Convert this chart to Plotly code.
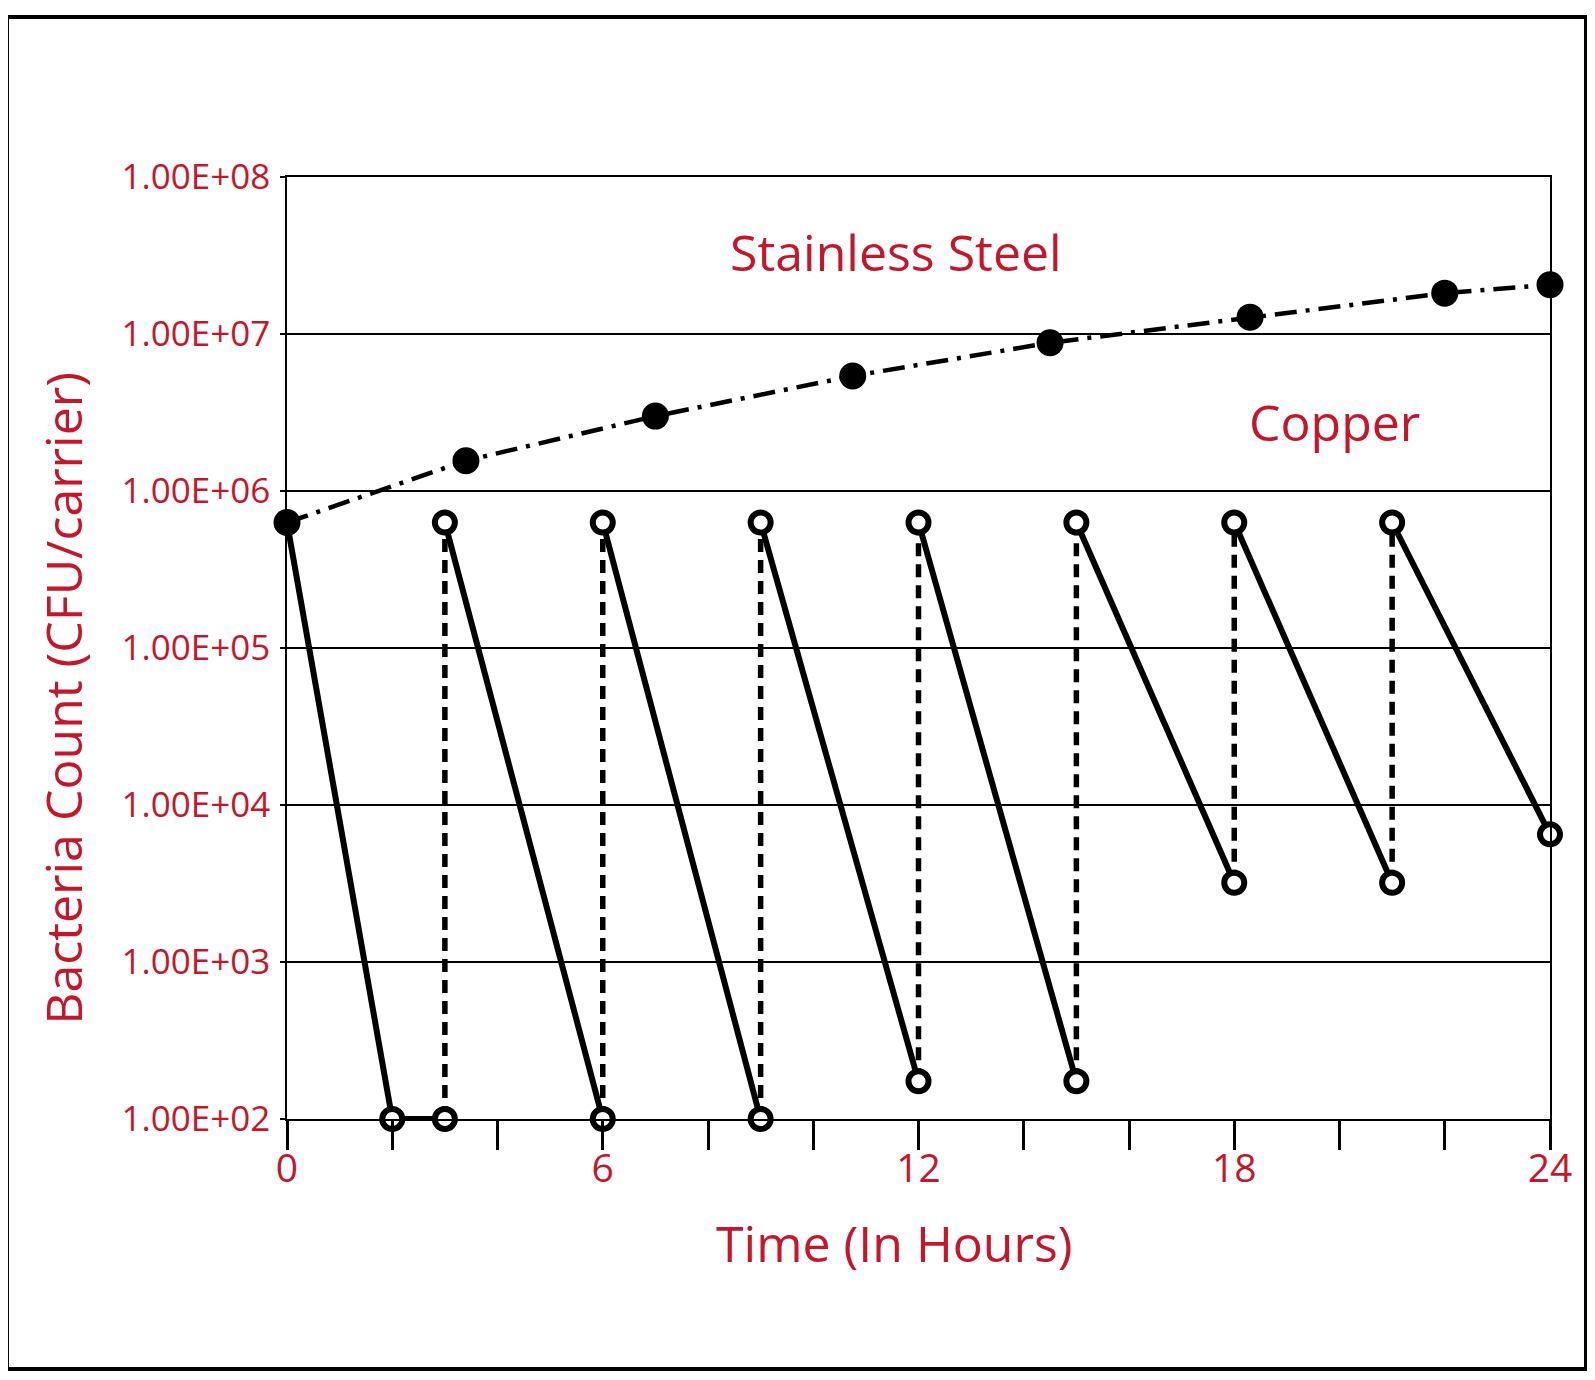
import plotly.graph_objects as go

# ---------------- data ----------------
steel_hours = [0, 3.4, 7, 10.75, 14.5, 18.3, 22, 24]
steel_counts = [6.3e5, 1.56e6, 3.0e6, 5.4e6, 8.8e6, 1.28e7, 1.82e7, 2.06e7]

copper_start_hour = 0
copper_start_count = 6.3e5
copper_plateau_hours = [2, 3]
copper_plateau_counts = [1e2, 1e2]
copper_top_hours = [3, 6, 9, 12, 15, 18, 21]
copper_top_counts = [6.3e5, 6.3e5, 6.3e5, 6.3e5, 6.3e5, 6.3e5, 6.3e5]
copper_bottom_hours = [6, 9, 12, 15, 18, 21, 24]
copper_bottom_counts = [1e2, 1e2, 1.74e2, 1.74e2, 3.2e3, 3.2e3, 6.5e3]

y_tick_vals = [1e2, 1e3, 1e4, 1e5, 1e6, 1e7, 1e8]
y_tick_text = ["1.00E+02", "1.00E+03", "1.00E+04", "1.00E+05",
               "1.00E+06", "1.00E+07", "1.00E+08"]
x_tick_vals = list(range(0, 25, 2))
x_tick_text = ["0", "", "", "6", "", "", "12", "", "", "18", "", "", "24"]

RED = "#C4172C"
FONT = "Open Sans"

# ---------------- build segments ----------------
solid_x = [copper_start_hour] + copper_plateau_hours + [None]
solid_y = [copper_start_count] + copper_plateau_counts + [None]
for th, tc, bh, bc in zip(copper_top_hours, copper_top_counts,
                          copper_bottom_hours, copper_bottom_counts):
    solid_x += [th, bh, None]
    solid_y += [tc, bc, None]

prev_bottom_h = [copper_plateau_hours[-1]] + copper_bottom_hours[:-1]
prev_bottom_c = [copper_plateau_counts[-1]] + copper_bottom_counts[:-1]
dash_x, dash_y = [], []
for bh, bc, th, tc in zip(prev_bottom_h, prev_bottom_c,
                          copper_top_hours, copper_top_counts):
    dash_x += [bh, th, None]
    dash_y += [bc, tc, None]

marker_x = copper_plateau_hours + copper_top_hours + copper_bottom_hours
marker_y = copper_plateau_counts + copper_top_counts + copper_bottom_counts

fig = go.Figure()
fig.add_trace(go.Scatter(x=dash_x, y=dash_y, mode="lines", cliponaxis=False,
                         line=dict(color="black", width=5.5, dash="13px,8px"),
                         hoverinfo="skip", showlegend=False))
fig.add_trace(go.Scatter(x=solid_x, y=solid_y, mode="lines", cliponaxis=False,
                         line=dict(color="black", width=6),
                         showlegend=False, name="Copper"))
fig.add_trace(go.Scatter(x=marker_x, y=marker_y, mode="markers", cliponaxis=False,
                         marker=dict(symbol="circle", size=20, color="white",
                                     line=dict(width=6, color="black")),
                         showlegend=False, name="Copper"))
fig.add_trace(go.Scatter(x=steel_hours, y=steel_counts, mode="lines+markers",
                         cliponaxis=False,
                         line=dict(color="black", width=4.5, dash="22px,9px,4px,9px"),
                         marker=dict(symbol="circle", size=27, color="black"),
                         showlegend=False, name="Stainless Steel"))

# page body has an 8px margin; size the figure so the page does not scroll
fig.update_layout(
    width=1579, height=1364,
    margin=dict(l=279, r=37, t=169, b=253),
    paper_bgcolor="white", plot_bgcolor="white",
    font=dict(family=FONT, color=RED),
    xaxis=dict(range=[0, 24], tickvals=x_tick_vals, ticktext=x_tick_text,
               ticks="outside", ticklen=29, tickwidth=2.5, tickcolor="black",
               showline=True, linecolor="black", linewidth=1.5, mirror=True,
               showgrid=False, zeroline=False, ticklabelstandoff=-15,
               tickfont=dict(family=FONT, size=39, color=RED)),
    yaxis=dict(type="log", range=[2, 8], tickvals=y_tick_vals, ticktext=y_tick_text,
               ticks="outside", ticklen=5, tickwidth=1.5, tickcolor="black",
               showline=True, linecolor="black", linewidth=1.5, mirror=True,
               showgrid=True, gridcolor="black", gridwidth=1.5, zeroline=False,
               ticklabelstandoff=3,
               tickfont=dict(family=FONT, size=35, color=RED)),
    shapes=[dict(type="rect", xref="paper", yref="paper",
                 x0=-0.2217, x1=1.0285, y0=-0.2654, y1=1.1699,
                 line=dict(color="black", width=4), layer="below")],
    annotations=[
        dict(text="Time (In Hours)", xref="paper", yref="paper",
             x=0.481, y=-0.1316, showarrow=False, xanchor="center", yanchor="middle",
             font=dict(family=FONT, size=50, color=RED)),
        dict(text="Bacteria Count (CFU/carrier)", xref="paper", yref="paper",
             x=-0.1774, y=0.447, showarrow=False, xanchor="center", yanchor="middle",
             textangle=-90, font=dict(family=FONT, size=50, color=RED)),
        dict(text="Stainless Steel", xref="paper", yref="paper",
             x=0.482, y=0.920, showarrow=False, xanchor="center", yanchor="middle",
             font=dict(family=FONT, size=50, color=RED)),
        dict(text="Copper", xref="paper", yref="paper",
             x=0.829, y=0.740, showarrow=False, xanchor="center", yanchor="middle",
             font=dict(family=FONT, size=50, color=RED)),
    ],
)

fig.write_html("out.html")
